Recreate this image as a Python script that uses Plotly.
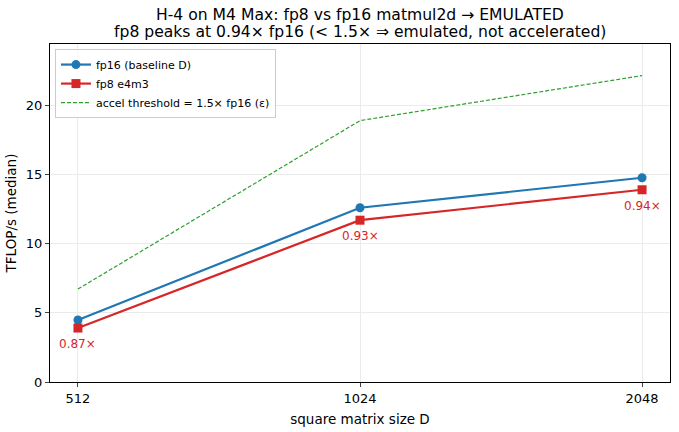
import plotly.graph_objects as go
import math

sizes = [512, 1024, 2048]
fp16 = [4.48, 12.6, 14.77]
fp8 = [3.9, 11.7, 13.9]
threshold = [v * 1.5 for v in fp16]
ratios = ["0.87×", "0.93×", "0.94×"]
title_lines = ["H-4 on M4 Max: fp8 vs fp16 matmul2d → EMULATED",
               "fp8 peaks at 0.94× fp16 (< 1.5× ⇒ emulated, not accelerated)"]

font = "DejaVu Sans"
fig = go.Figure()
fig.add_trace(go.Scatter(x=sizes, y=fp16, mode="lines+markers", name="fp16 (baseline D)",
                         line=dict(color="#1f77b4", width=2.2), marker=dict(size=9, color="#1f77b4")))
fig.add_trace(go.Scatter(x=sizes, y=fp8, mode="lines+markers", name="fp8 e4m3",
                         line=dict(color="#d62728", width=2.2), marker=dict(size=9, symbol="square", color="#d62728")))
fig.add_trace(go.Scatter(x=sizes, y=threshold, mode="lines", name="accel threshold = 1.5× fp16 (ε)",
                         line=dict(color="#2ca02c", width=1.2, dash="4px,2px")))

for x, y, t in zip(sizes, fp8, ratios):
    fig.add_annotation(x=math.log10(x), y=y, text=t, showarrow=False, yshift=-16,
                       font=dict(color="#d62728", size=12, family=font))

# title as two centred text lines above the plot area
for i, line in enumerate(title_lines):
    fig.add_annotation(xref="paper", yref="paper", x=0.5, y=1, yshift=29.5 - i * 17.5,
                       text=line, showarrow=False, xanchor="center", yanchor="middle",
                       font=dict(size=15.6, family=font, color="black"))

lo = math.log10(2 ** 8.901)
hi = math.log10(2 ** 11.099)
fig.update_layout(
    width=679, height=432,
    margin=dict(l=50, r=8, t=44, b=47),
    paper_bgcolor="white", plot_bgcolor="white",
    font=dict(family=font, size=13, color="black"),
    xaxis=dict(type="log", range=[lo, hi], tickvals=sizes, ticktext=[str(s) for s in sizes],
               showline=True, linecolor="black", linewidth=1, mirror=True, ticks="outside",
               ticklen=4, showgrid=True, gridcolor="#ebebeb", zeroline=False,
               title=dict(text="square matrix size D", standoff=9, font=dict(size=13.5))),
    yaxis=dict(range=[0, 24.44], tickvals=[0, 5, 10, 15, 20],
               showline=True, linecolor="black", linewidth=1, mirror=True, ticks="outside",
               ticklen=4, showgrid=True, gridcolor="#ebebeb", zeroline=False,
               title=dict(text="TFLOP/s (median)", standoff=6, font=dict(size=13.5))),
    legend=dict(x=0.008, y=0.985, xanchor="left", yanchor="top", bgcolor="rgba(255,255,255,0.8)",
                bordercolor="#cccccc", borderwidth=1, font=dict(size=11), tracegroupgap=0),
    showlegend=True,
)
fig.write_html("out.html")
